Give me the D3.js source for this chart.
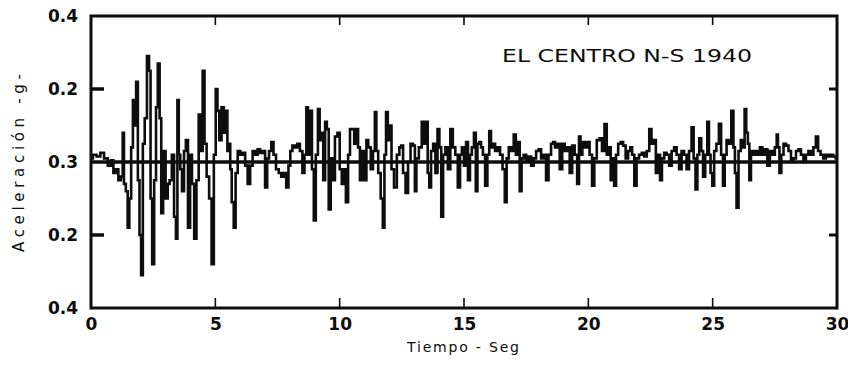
<!DOCTYPE html>
<html><head><meta charset="utf-8">
<script src="https://cdn.jsdelivr.net/npm/d3@7"></script>
<style>body{margin:0;background:#fff}svg{display:block}</style>
</head><body><svg id="c" width="848" height="377"></svg>
<script>
// ---- data (time in s, acceleration in g) ----
const time = [
0.0,0.15,0.3,0.45,0.6,0.75,0.85,0.95,1.05,1.15,1.25,1.3,1.35,1.45,1.5,1.58,1.65,1.72,1.78,1.85,
1.92,1.98,2.05,2.12,2.2,2.3,2.37,2.42,2.5,2.58,2.65,2.72,2.8,2.85,2.95,3.05,3.12,3.2,3.3,3.38,
3.45,3.5,3.56,3.62,3.7,3.78,3.85,3.95,4.02,4.1,4.2,4.28,4.38,4.45,4.53,4.6,4.7,4.8,4.9,4.98,
5.05,5.12,5.2,5.3,5.38,5.45,5.52,5.58,5.62,5.7,5.78,5.85,5.95,6.05,6.15,6.25,6.35,6.45,6.55,6.65,
6.75,6.85,6.95,7.05,7.12,7.2,7.3,7.38,7.5,7.6,7.7,7.8,7.9,7.98,8.05,8.15,8.25,8.35,8.45,8.55,
8.62,8.7,8.75,8.85,8.92,9.0,9.08,9.17,9.22,9.3,9.38,9.45,9.52,9.6,9.68,9.75,9.87,9.95,10.05,10.12,
10.2,10.3,10.38,10.45,10.55,10.62,10.7,10.78,10.85,10.95,11.05,11.1,11.2,11.3,11.38,11.45,11.5,11.6,11.7,11.77,
11.83,11.9,11.97,12.05,12.12,12.25,12.35,12.45,12.5,12.6,12.7,12.8,12.9,13.0,13.05,13.12,13.25,13.35,13.42,13.5,
13.58,13.63,13.72,13.8,13.9,13.97,14.05,14.12,14.2,14.3,14.4,14.5,14.6,14.7,14.8,14.88,14.95,15.05,15.12,15.2,
15.28,15.35,15.45,15.5,15.58,15.65,15.72,15.8,15.9,15.98,16.05,16.12,16.2,16.3,16.4,16.5,16.6,16.68,16.75,16.85,
16.95,17.05,17.12,17.2,17.28,17.35,17.45,17.55,17.65,17.75,17.85,17.95,18.05,18.15,18.25,18.35,18.45,18.55,18.62,18.7,
18.8,18.9,19.0,19.1,19.2,19.3,19.4,19.5,19.6,19.65,19.72,19.8,19.9,20.0,20.1,20.2,20.28,20.4,20.5,20.6,
20.7,20.78,20.85,20.95,21.0,21.08,21.15,21.25,21.35,21.45,21.55,21.65,21.72,21.8,21.9,21.98,22.1,22.2,22.3,22.4,
22.5,22.58,22.68,22.75,22.85,22.92,23.0,23.1,23.2,23.3,23.4,23.5,23.6,23.7,23.8,23.9,24.0,24.1,24.2,24.27,
24.35,24.42,24.5,24.58,24.65,24.75,24.82,24.88,24.95,25.02,25.1,25.2,25.3,25.38,25.45,25.52,25.6,25.7,25.8,25.87,
25.92,26.0,26.08,26.18,26.25,26.32,26.38,26.45,26.5,26.58,26.65,26.75,26.85,26.95,27.05,27.15,27.25,27.35,27.45,27.55,
27.6,27.65,27.72,27.8,27.9,28.0,28.1,28.2,28.3,28.4,28.5,28.6,28.7,28.8,28.9,29.0,29.1,29.2,29.28,29.4,
29.5,29.6,29.7,29.8,29.9,30.0
];
const accel = [
0.01,0.02,0.015,0.025,0.01,-0.01,0.005,-0.03,-0.02,-0.05,-0.04,0.08,-0.06,-0.08,-0.18,-0.10,0.04,0.17,0.10,0.22,
-0.05,-0.20,-0.31,0.05,0.12,0.29,0.25,-0.10,-0.28,-0.05,0.15,0.27,0.12,-0.14,0.03,-0.10,-0.06,-0.05,0.02,-0.15,
-0.21,0.17,0.02,-0.02,-0.08,0.03,0.06,-0.18,0.02,-0.06,-0.21,-0.05,0.13,0.03,0.25,0.05,-0.04,-0.10,-0.28,0.02,
0.20,0.14,0.06,0.15,0.08,0.14,0.03,0.05,-0.02,-0.11,-0.18,-0.03,0.03,0.02,0.025,-0.01,-0.06,-0.01,0.03,0.02,
0.035,0.025,0.03,-0.07,0.01,0.03,0.055,0.02,-0.02,-0.03,-0.04,-0.03,-0.07,-0.01,0.03,0.045,0.04,0.05,0.03,-0.03,
0.02,0.15,0.02,0.14,-0.02,-0.16,0.02,0.145,0.06,0.08,-0.05,0.11,0.09,-0.13,0.01,-0.05,0.07,0.08,-0.02,-0.06,
-0.02,-0.11,0.02,0.09,0.09,0.05,0.09,0.04,-0.05,0.03,-0.05,0.06,0.04,-0.02,0.03,0.137,0.03,-0.03,-0.10,-0.18,
0.02,0.137,0.06,0.10,-0.02,-0.07,0.02,0.04,0.045,-0.03,-0.085,0.0,0.05,0.045,-0.08,0.01,0.04,0.11,0.05,0.11,
-0.03,-0.07,0.03,0.05,-0.03,0.09,0.04,-0.15,0.02,0.04,-0.02,0.09,0.04,0.02,-0.07,0.02,0.04,-0.01,0.055,-0.05,
0.02,0.04,0.08,-0.08,0.05,0.055,0.04,0.02,-0.065,0.02,0.085,0.04,0.05,0.03,0.04,0.02,-0.02,-0.11,0.01,0.04,
0.03,0.075,0.02,0.055,-0.08,0.01,0.02,0.0,0.015,-0.01,0.01,0.03,0.035,0.01,0.02,-0.05,0.02,0.05,0.055,0.04,
0.05,-0.02,0.05,0.03,0.04,-0.03,0.045,0.02,-0.06,0.07,0.02,0.055,0.04,0.055,0.02,-0.065,0.01,0.06,0.065,0.03,
0.104,0.02,0.04,-0.05,0.01,-0.065,0.02,0.05,0.055,0.045,0.01,0.03,0.04,0.02,-0.065,0.01,0.02,0.025,0.015,0.03,
0.09,0.05,0.06,-0.03,0.02,-0.05,0.01,0.025,0.02,-0.01,0.03,0.04,0.02,-0.02,0.03,0.02,-0.02,0.03,0.095,0.01,
-0.075,0.02,0.065,0.03,-0.04,0.02,0.11,0.02,-0.03,-0.065,0.03,0.05,0.105,0.02,-0.065,0.02,0.06,0.05,0.14,0.04,
-0.03,-0.125,0.03,0.06,0.04,0.145,0.08,0.05,-0.05,0.03,0.02,0.03,0.02,0.04,0.02,0.035,-0.01,0.03,0.02,0.04,
0.075,0.04,-0.03,0.02,0.05,0.045,0.03,0.0,0.01,0.03,0.035,0.02,0.0,0.02,0.03,0.02,0.04,0.07,0.03,0.02,
0.01,0.02,0.015,0.02,0.015,0.01
];
const xTicks = [0, 5, 10, 15, 20, 25, 30];
const xTickLabels = ["0", "5", "10", "15", "20", "25", "30"];
const yTicks = [0.4, 0.2, 0, -0.2, -0.4];
const yTickLabels = ["0.4", "0.2", "0.3", "0.2", "0.4"];
const innerXTicks = [5, 10, 15, 20, 25];
const innerYTicks = [0.2, -0.2];
const chartTitle = "EL CENTRO N-S 1940";
const xTitle = "Tiempo - Seg";
const yTitle = "Aceleración -g-";

// ---- drawing ----
const svg = d3.select("#c");
const x = d3.scaleLinear().domain([0, 30]).range([91, 837]);
const y = d3.scaleLinear().domain([-0.4, 0.4]).range([308, 16]);
const ink = "#0d0d0d";
const numFont = "'DejaVu Sans', sans-serif";

const pts = time.map((t, i) => [t, accel[i]]);

// zero baseline
svg.append("line")
  .attr("x1", x(0)).attr("x2", x(30)).attr("y1", y(0)).attr("y2", y(0))
  .attr("stroke", ink).attr("stroke-width", 3.5);

// trace (step-like record, vertical strokes)
svg.append("path").datum(pts)
  .attr("d", d3.line().curve(d3.curveStep).x(d => x(d[0])).y(d => y(d[1])))
  .attr("fill", "none").attr("stroke", ink)
  .attr("stroke-width", 2.6).attr("stroke-linejoin", "miter");

// frame
svg.append("rect")
  .attr("x", x(0)).attr("y", y(0.4))
  .attr("width", x(30) - x(0)).attr("height", y(-0.4) - y(0.4))
  .attr("fill", "none").attr("stroke", ink).attr("stroke-width", 3);

// inner x ticks (top and bottom)
innerXTicks.forEach(v => {
  svg.append("line").attr("x1", x(v)).attr("x2", x(v))
    .attr("y1", y(-0.4)).attr("y2", y(-0.4) - 10)
    .attr("stroke", ink).attr("stroke-width", 1.6);
  svg.append("line").attr("x1", x(v)).attr("x2", x(v))
    .attr("y1", y(0.4)).attr("y2", y(0.4) + 9)
    .attr("stroke", ink).attr("stroke-width", 1.6);
});
// inner y ticks (left and right)
innerYTicks.forEach(v => {
  svg.append("line").attr("x1", x(0)).attr("x2", x(0) + 13)
    .attr("y1", y(v)).attr("y2", y(v))
    .attr("stroke", ink).attr("stroke-width", 3.5);
  svg.append("line").attr("x1", x(30)).attr("x2", x(30) - 8)
    .attr("y1", y(v)).attr("y2", y(v))
    .attr("stroke", ink).attr("stroke-width", 3);
});

// axes (labels only)
const gy = svg.append("g").attr("transform", `translate(${x(0)},0)`)
  .call(d3.axisLeft(y).tickValues(yTicks).tickSize(0).tickPadding(13)
    .tickFormat((d, i) => yTickLabels[i]));
const gx = svg.append("g").attr("transform", `translate(0,${y(-0.4)})`)
  .call(d3.axisBottom(x).tickValues(xTicks).tickSize(0).tickPadding(10)
    .tickFormat((d, i) => xTickLabels[i]));
[gx, gy].forEach(g => {
  g.select(".domain").remove();
  g.selectAll("text").attr("fill", ink).attr("font-family", numFont)
    .attr("font-size", 17).attr("font-weight", "bold");
});

// titles
svg.append("text").text(chartTitle)
  .attr("x", 502).attr("y", 62)
  .attr("textLength", 250).attr("lengthAdjust", "spacingAndGlyphs")
  .attr("font-family", numFont).attr("font-size", 17).attr("fill", ink);

svg.append("text").text(xTitle)
  .attr("x", 463).attr("y", 352).attr("text-anchor", "middle")
  .attr("textLength", 112).attr("lengthAdjust", "spacing")
  .attr("font-family", numFont).attr("font-size", 14).attr("fill", ink);

svg.append("text").text(yTitle)
  .attr("transform", "translate(24,163) rotate(-90)")
  .attr("text-anchor", "middle")
  .attr("textLength", 178).attr("lengthAdjust", "spacing")
  .attr("font-family", numFont).attr("font-size", 15).attr("fill", ink);
</script>
</body></html>
